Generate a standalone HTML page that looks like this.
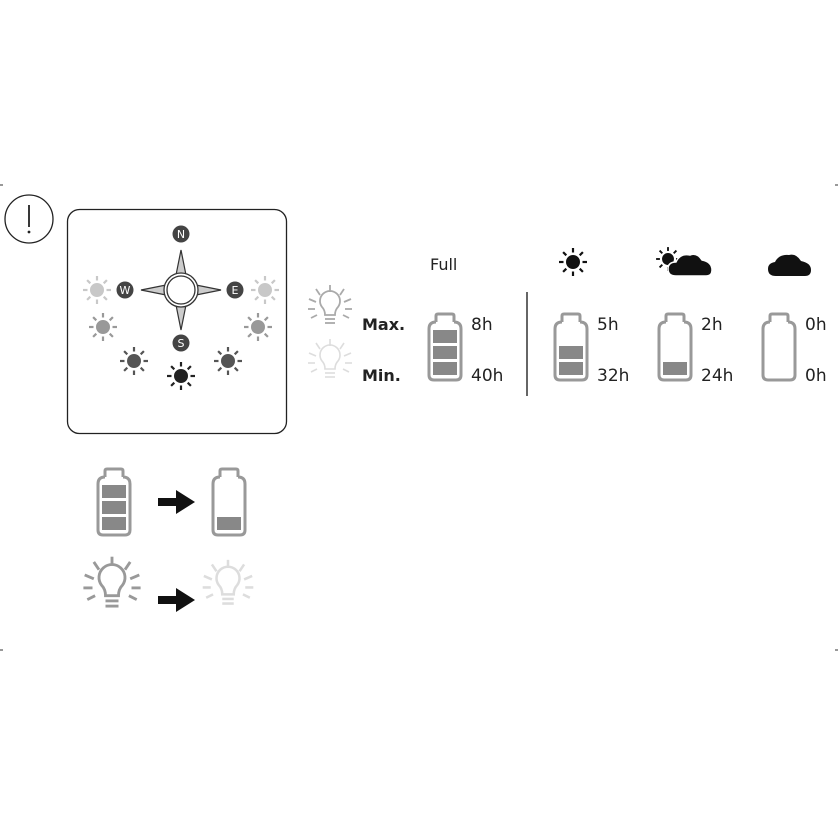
<!DOCTYPE html>
<html><head><meta charset="utf-8"><style>
html,body{margin:0;padding:0;background:#fff}
svg{display:block}
text{font-family:"DejaVu Sans","Liberation Sans",sans-serif}
</style></head><body>
<svg width="838" height="838" viewBox="0 0 838 838" xmlns="http://www.w3.org/2000/svg">
<defs>
<g id="sun"><circle r="6.5"/><g stroke-width="2.2" stroke-linecap="butt">
<line x1="0" y1="-9.5" x2="0" y2="-14"/><line x1="0" y1="9.5" x2="0" y2="14"/>
<line x1="-9.5" y1="0" x2="-14" y2="0"/><line x1="9.5" y1="0" x2="14" y2="0"/>
<line x1="6.7" y1="-6.7" x2="9.9" y2="-9.9"/><line x1="-6.7" y1="-6.7" x2="-9.9" y2="-9.9"/>
<line x1="6.7" y1="6.7" x2="9.9" y2="9.9"/><line x1="-6.7" y1="6.7" x2="-9.9" y2="9.9"/></g></g>
<g id="bat" fill="none" stroke-width="3"><path d="M9,9 V3 Q9,1 11,1 H25 Q27,1 27,3 V9 M9,9 Q2,9 2,16 V62 Q2,67 7,67 H29 Q34,67 34,62 V16 Q34,9 27,9"/></g>
<g id="bulb" fill="none" stroke-linecap="butt">
<path d="M-5,9 Q-5,4 -8,1 A10,10 0 1 1 8,1 Q5,4 5,9 Z"/>
<line x1="-5" y1="13" x2="5" y2="13"/><line x1="-5" y1="17" x2="5" y2="17"/>
<line x1="0" y1="-14" x2="0" y2="-21"/><line x1="-10" y1="-11" x2="-14" y2="-17"/><line x1="10" y1="-11" x2="14" y2="-17"/>
<line x1="-14" y1="-4" x2="-21" y2="-7"/><line x1="14" y1="-4" x2="21" y2="-7"/>
<line x1="-15" y1="3" x2="-22" y2="3"/><line x1="15" y1="3" x2="22" y2="3"/>
<line x1="-13" y1="9" x2="-19" y2="12"/><line x1="13" y1="9" x2="19" y2="12"/></g>
</defs>
<path d="M0,185 h3 M838,185 h-3 M0,650 h3 M838,650 h-3" stroke="#333" stroke-width="1"/>
<circle cx="29" cy="219" r="24" fill="none" stroke="#222" stroke-width="1.3"/>
<line x1="29" y1="205" x2="29" y2="227" stroke="#222" stroke-width="1.8"/>
<circle cx="29" cy="232" r="1.4" fill="#222"/>
<rect x="67.5" y="209.5" width="219" height="224" rx="12" fill="none" stroke="#222" stroke-width="1.3"/>
<g fill="#c8c8c8" stroke="#c8c8c8"><use href="#sun" x="97" y="290"/><use href="#sun" x="265" y="290"/></g>
<g fill="#999" stroke="#999"><use href="#sun" x="103" y="327"/><use href="#sun" x="258" y="327"/></g>
<g fill="#555" stroke="#555"><use href="#sun" x="134" y="361"/><use href="#sun" x="228" y="361"/></g>
<g fill="#222" stroke="#222"><use href="#sun" x="181" y="376"/></g>
<g fill="#ccc" stroke="#333" stroke-width="1.2">
<path d="M181,250 L176,275 L186,275 Z"/><path d="M181,330 L176,305 L186,305 Z"/>
<path d="M141,290 L166,285 L166,295 Z"/><path d="M221,290 L196,285 L196,295 Z"/>
</g>
<circle cx="181" cy="290" r="17" fill="#fff" stroke="#333" stroke-width="1.3"/>
<circle cx="181" cy="290" r="14" fill="#fff" stroke="#333" stroke-width="1.3"/>
<g fill="#444"><circle cx="181" cy="234" r="8.5"/><circle cx="125" cy="290" r="8.5"/><circle cx="235" cy="290" r="8.5"/><circle cx="181" cy="343" r="8.5"/></g>
<g fill="#fff" font-size="11" text-anchor="middle"><text x="181" y="238">N</text><text x="125" y="294">W</text><text x="235" y="294">E</text><text x="181" y="347">S</text></g>
<g stroke="#aaa" stroke-width="1.8"><use href="#bulb" x="330" y="306"/></g>
<g stroke="#ddd" stroke-width="1.6"><use href="#bulb" x="330" y="360"/></g>
<g font-size="16" font-weight="bold" fill="#222"><text x="362" y="330">Max.</text><text x="362" y="381">Min.</text></g>
<text x="430" y="270" font-size="16" fill="#222">Full</text>
<line x1="527" y1="292" x2="527" y2="396" stroke="#333" stroke-width="1.5"/>
<g stroke="#999"><use href="#bat" x="427" y="313"/><use href="#bat" x="553" y="313"/><use href="#bat" x="657" y="313"/><use href="#bat" x="761" y="313"/></g>
<g fill="#888"><rect x="433" y="330" width="24" height="13"/><rect x="433" y="346" width="24" height="13"/><rect x="433" y="362" width="24" height="13"/>
<rect x="559" y="346" width="24" height="13"/><rect x="559" y="362" width="24" height="13"/><rect x="663" y="362" width="24" height="13"/></g>
<g font-size="17" fill="#222"><text x="471" y="330">8h</text><text x="471" y="381">40h</text>
<text x="597" y="330">5h</text><text x="597" y="381">32h</text>
<text x="701" y="330">2h</text><text x="701" y="381">24h</text>
<text x="805" y="330">0h</text><text x="805" y="381">0h</text></g>
<g fill="#111" stroke="#111"><use href="#sun" x="573" y="262"/></g>
<g fill="#111" stroke="#111" transform="translate(668,259) scale(0.85)"><use href="#sun"/></g>
<path d="M676,276 Q668,276 668,269 Q668,262 676,262 Q680,253 690,255 Q697,252 702,260 Q712,262 712,270 Q712,276 706,276 Z" fill="#111" stroke="#fff" stroke-width="1.5"/>
<path d="M776,276 Q768,276 768,269 Q768,263 775,262 Q779,254 789,255 Q796,253 801,261 Q811,263 811,270 Q811,276 805,276 Z" fill="#111"/>
<g stroke="#999"><use href="#bat" x="96" y="468"/><use href="#bat" x="211" y="468"/></g>
<g fill="#888"><rect x="102" y="485" width="24" height="13"/><rect x="102" y="501" width="24" height="13"/><rect x="102" y="517" width="24" height="13"/><rect x="217" y="517" width="24" height="13"/></g>
<path d="M158,498 H176 V490 L195,502 L176,514 V506 H158 Z" fill="#111"/>
<path d="M158,596 H176 V588 L195,600 L176,612 V604 H158 Z" fill="#111"/>
<g stroke="#999" stroke-width="2.2"><use href="#bulb" transform="translate(112,584) scale(1.3)"/></g>
<g stroke="#ddd" stroke-width="2.2"><use href="#bulb" transform="translate(228,584) scale(1.15)"/></g>
</svg>
</body></html>
